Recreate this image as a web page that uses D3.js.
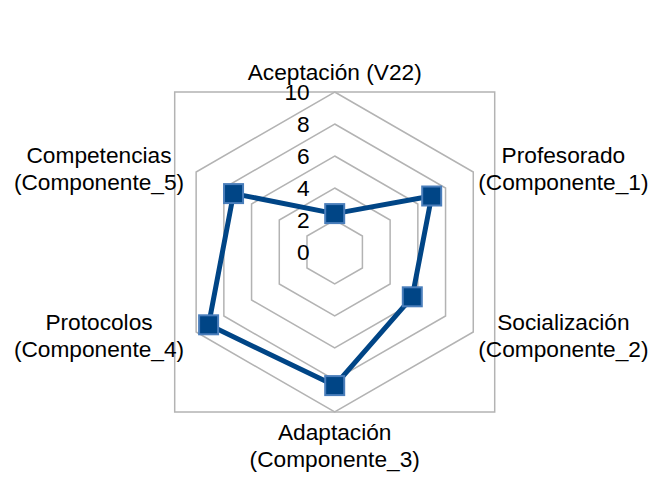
<!DOCTYPE html>
<html>
<head>
<meta charset="utf-8">
<script src="https://cdn.jsdelivr.net/npm/d3@7"></script>
<style>
  body { margin: 0; background: #fff; }
  text { font-family: "Liberation Sans", Arial, sans-serif; fill: #000; }
</style>
</head>
<body>
<div id="radar"></div>
<script>
// axis labels, clockwise from the top
var axisLabels = [
    ["Aceptación (V22)"],
    ["Profesorado", "(Componente_1)"],
    ["Socialización", "(Componente_2)"],
    ["Adaptación", "(Componente_3)"],
    ["Protocolos", "(Componente_4)"],
    ["Competencias", "(Componente_5)"]
];
var values = [2.4, 7.0, 5.6, 8.35, 9.1, 7.3];
var tickValues = [0, 2, 4, 6, 8, 10];

var width = 664, height = 492;
var cx = 334.7, cy = 252, radius = 160;
var fontSize = 22.7;

var svg = d3.select("#radar").append("svg")
    .attr("width", width)
    .attr("height", height);

var r = d3.scaleLinear().domain([0, 10]).range([0, radius]);
var angle = d3.scaleLinear().domain([0, axisLabels.length]).range([0, 2 * Math.PI]);

function point(i, v) {
    var a = angle(i);
    return [cx + Math.sin(a) * r(v), cy - Math.cos(a) * r(v)];
}

//plot area border
svg.append("rect")
    .attr("x", cx - radius)
    .attr("y", cy - radius)
    .attr("width", 2 * radius)
    .attr("height", 2 * radius)
    .attr("fill", "none")
    .attr("stroke", "#b3b3b3")
    .attr("stroke-width", 1.5);

//hexagon rings
var ring = d3.line().curve(d3.curveLinearClosed);
svg.selectAll(".ring")
    .data(tickValues.filter(function(d) { return d > 0; }))
    .enter().append("path")
    .attr("class", "ring")
    .attr("d", function(v) {
        return ring(axisLabels.map(function(d, i) { return point(i, v); }));
    })
    .attr("fill", "none")
    .attr("stroke", "#b3b3b3")
    .attr("stroke-width", 1.5);

//tick labels
svg.selectAll(".tick")
    .data(tickValues)
    .enter().append("text")
    .attr("class", "tick")
    .attr("x", cx - 25)
    .attr("y", function(d) { return cy - r(d); })
    .attr("dy", "0.37em")
    .attr("text-anchor", "end")
    .attr("font-size", fontSize)
    .text(function(d) { return d; });

//data line
svg.append("path")
    .attr("d", ring(values.map(function(v, i) { return point(i, v); })))
    .attr("fill", "none")
    .attr("stroke", "#004586")
    .attr("stroke-width", 5)
    .attr("stroke-linejoin", "round");

var ms = 19;
svg.selectAll(".marker")
    .data(values)
    .enter().append("rect")
    .attr("class", "marker")
    .attr("x", function(v, i) { return point(i, v)[0] - ms / 2; })
    .attr("y", function(v, i) { return point(i, v)[1] - ms / 2; })
    .attr("width", ms)
    .attr("height", ms)
    .attr("fill", "#004586")
    .attr("stroke", "#4a7ebb")
    .attr("stroke-width", 2);

//axis labels, placed next to the outer vertex
axisLabels.forEach(function(lines, i) {
    var a = angle(i);
    var s = Math.sin(a), c = Math.cos(a);
    var t = svg.append("text")
        .attr("text-anchor", "middle")
        .attr("font-size", fontSize);
    lines.forEach(function(line, k) {
        t.append("tspan")
            .attr("x", 0)
            .attr("dy", k == 0 ? 0 : "1.18em")
            .text(line);
    });
    var box = t.node().getBBox();
    var p = point(i, 10);
    var fx = 0.5, fy = 0.5;
    if (s > 0.01) { fx = 0; p[0] += 5; }
    else if (s < -0.01) { fx = 1; p[0] -= 12; }
    if (Math.abs(s) < 0.01) {
        if (c > 0) { fy = 1; p[1] -= 7; }
        else { fy = 0; p[1] += 7; }
    } else {
        p[1] -= c * 7;
    }
    var tx = p[0] - (box.x + box.width * fx);
    var ty = p[1] - (box.y + box.height * fy);
    t.attr("transform", "translate(" + tx + "," + ty + ")");
});
</script>
</body>
</html>
